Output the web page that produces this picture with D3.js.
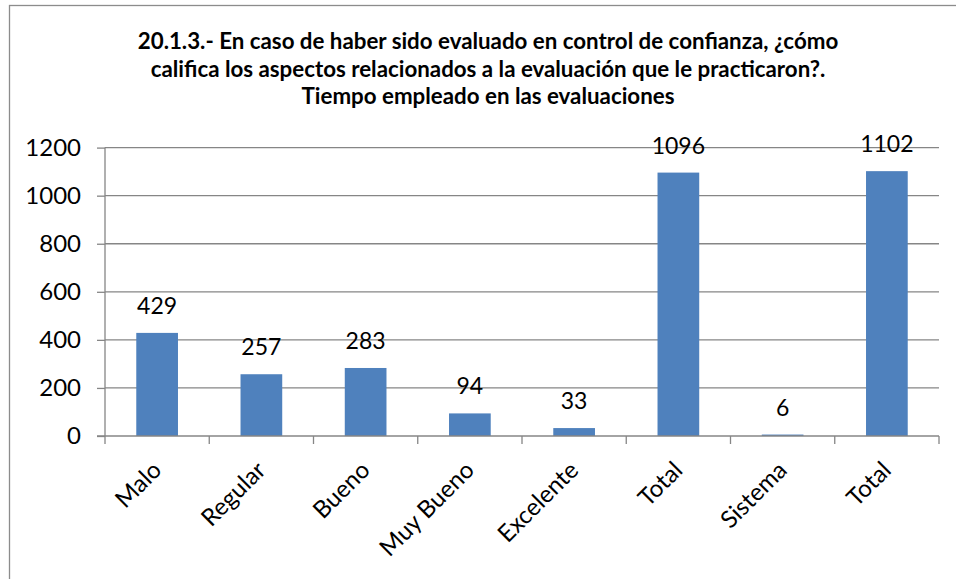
<!DOCTYPE html>
<html><head><meta charset="utf-8">
<script src="https://cdn.jsdelivr.net/npm/d3@7"></script>
<style>
html,body{margin:0;padding:0;background:#fff;}
svg{display:block;}
text{font-family:Lato,"Open Sans",sans-serif;fill:#000;}
</style></head>
<body>
<svg id="c" width="956" height="579"></svg>
<script>
const categories = ["Malo","Regular","Bueno","Muy Bueno","Excelente","Total","Sistema","Total"];
const values = [429,257,283,94,33,1096,6,1102];
const yTicks = [0,200,400,600,800,1000,1200];
const titleLines = [
  "20.1.3.- En caso de haber sido evaluado en control de confianza, ¿cómo",
  "califica los aspectos relacionados a la evaluación que le practicaron?.",
  "Tiempo empleado en las evaluaciones"
];

const svg = d3.select("#c");
const W = 956, H = 579;
const m = {left:105, right:956-939, top:147.6, bottom:579-436};

// frame
svg.append("rect").attr("x",9.5).attr("y",5.5).attr("width",W+20).attr("height",H+20)
  .attr("fill","none").attr("stroke","#8c8c8c").attr("stroke-width",1.3);

const x = d3.scaleBand().domain(d3.range(categories.length))
  .range([m.left, W-m.right]).paddingInner(0.6).paddingOuter(0.3);
const y = d3.scaleLinear().domain([0,1200]).range([H-m.bottom, m.top]);

// gridlines
svg.append("g").selectAll("line").data(yTicks.filter(d=>d>0)).join("line")
  .attr("x1",m.left).attr("x2",W-m.right)
  .attr("y1",d=>y(d)).attr("y2",d=>y(d))
  .attr("stroke","#868686").attr("stroke-width",1.3);

// y axis
const ya = svg.append("g").attr("transform",`translate(${m.left},0)`)
  .call(d3.axisLeft(y).tickValues(yTicks).tickFormat(d3.format("d")).tickSize(8).tickPadding(16));
ya.select(".domain").attr("stroke","#868686").attr("stroke-width",1.3).attr("d",`M0,${y(1200)}V${y(0)}`);
ya.selectAll(".tick line").attr("stroke","#868686").attr("stroke-width",1.3);
ya.selectAll(".tick text").attr("font-size",24).attr("font-family","Lato").attr("fill","#000");

// bars
svg.append("g").selectAll("rect").data(values).join("rect")
  .attr("x",(d,i)=>x(i)).attr("width",x.bandwidth())
  .attr("y",d=>y(d)).attr("height",d=>y(0)-y(d))
  .attr("fill","#4F81BD");

// x axis
const x0 = y(0);
const step = x.step();
const bounds = d3.range(categories.length+1).map(i=>m.left + i*step);
svg.append("line").attr("x1",m.left-8).attr("x2",W-m.right).attr("y1",x0).attr("y2",x0)
  .attr("stroke","#868686").attr("stroke-width",1.3);
svg.append("g").selectAll("line").data(bounds).join("line")
  .attr("x1",d=>d).attr("x2",d=>d).attr("y1",x0).attr("y2",x0+8)
  .attr("stroke","#868686").attr("stroke-width",1.3);

// x labels
svg.append("g").selectAll("text").data(categories).join("text")
  .attr("transform",(d,i)=>`translate(${x(i)+x.bandwidth()/2-7},${x0+23}) rotate(-45)`)
  .attr("text-anchor","end").attr("dy","0.75em")
  .attr("font-size",24).text(d=>d);

// value labels
svg.append("g").selectAll("text").data(values).join("text")
  .attr("x",(d,i)=>x(i)+x.bandwidth()/2).attr("y",d=>y(d)-19)
  .attr("text-anchor","middle").attr("font-size",23).text(d=>d);

// title
const tg = svg.append("g");
const tl = tg.selectAll("text").data(titleLines).join("text")
  .attr("x",488).attr("y",(d,i)=>49+i*27.5)
  .attr("text-anchor","middle").attr("font-weight","bold").attr("font-size",20).text(d=>d);
const w0 = tl.nodes()[0].getComputedTextLength();
const fs = 20*701/w0;
tl.attr("font-size",fs);
</script>
</body></html>
